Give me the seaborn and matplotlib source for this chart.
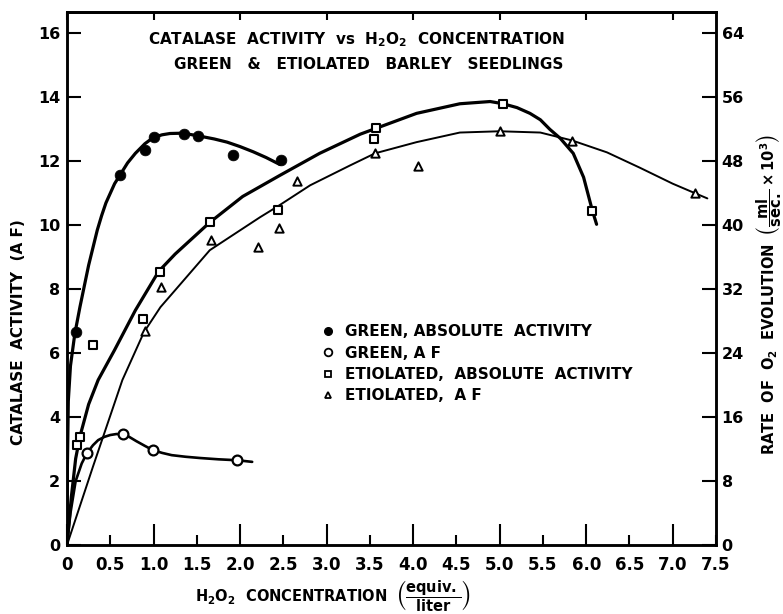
import matplotlib
matplotlib.use("Agg")
import matplotlib.pyplot as plt
from matplotlib.lines import Line2D
import seaborn as sns

# ---------------- data ----------------
green_abs_x = [0.10, 0.61, 0.90, 1.00, 1.35, 1.51, 1.92, 2.47]
green_abs_y = [6.65, 11.56, 12.34, 12.75, 12.84, 12.78, 12.19, 12.03]

green_af_x = [0.23, 0.65, 0.99, 1.97]
green_af_y = [2.87, 3.47, 2.97, 2.65]

etio_abs_x = [0.12, 0.15, 0.30, 0.88, 1.07, 1.65, 2.44, 3.55, 3.57, 5.04, 6.07]
etio_abs_y = [3.12, 3.37, 6.25, 7.06, 8.55, 10.10, 10.47, 12.70, 13.03, 13.78, 10.44]

etio_af_x = [0.90, 1.09, 1.66, 2.21, 2.45, 2.66, 3.56, 4.06, 5.00, 5.84, 7.26]
etio_af_y = [6.69, 8.06, 9.53, 9.32, 9.90, 11.40, 12.25, 11.84, 12.94, 12.65, 11.00]

# hand-drawn fitted curves
green_abs_curve_x = [0.0, 0.005, 0.015, 0.04, 0.09, 0.15, 0.20, 0.25, 0.30, 0.35, 0.40,
                     0.45, 0.50, 0.55, 0.61, 0.70, 0.79, 0.90, 1.00, 1.10, 1.19,
                     1.34, 1.51, 1.70, 1.85, 2.00, 2.15, 2.30, 2.46]
green_abs_curve_y = [0.0, 2.5, 4.5, 5.6, 6.6, 7.45, 8.1, 8.75, 9.3, 9.85, 10.3,
                     10.7, 11.0, 11.3, 11.56, 11.95, 12.25, 12.55, 12.75, 12.83, 12.87,
                     12.88, 12.80, 12.70, 12.60, 12.46, 12.30, 12.12, 11.90]

green_af_curve_x = [0.0, 0.04, 0.10, 0.17, 0.23, 0.30, 0.36, 0.43, 0.50, 0.57, 0.63,
                    0.72, 0.80, 0.90, 0.99, 1.10, 1.21, 1.37, 1.54, 1.75, 1.97, 2.14]
green_af_curve_y = [0.0, 1.0, 2.0, 2.55, 2.87, 3.12, 3.28, 3.38, 3.44, 3.47, 3.47,
                    3.38, 3.25, 3.10, 2.97, 2.88, 2.81, 2.76, 2.72, 2.68, 2.65, 2.60]

etio_abs_curve_x = [0.0, 0.05, 0.10, 0.15, 0.25, 0.36, 0.55, 0.79, 1.06, 1.25,
                    1.65, 2.03, 2.46, 2.92, 3.39, 3.57, 4.04, 4.54, 4.89, 5.04,
                    5.20, 5.35, 5.47, 5.58, 5.70, 5.85, 5.97, 6.07, 6.12]
etio_abs_curve_y = [0.0, 1.5, 2.7, 3.4, 4.4, 5.16, 6.1, 7.34, 8.56, 9.1,
                    10.09, 10.9, 11.56, 12.25, 12.85, 13.03, 13.5, 13.8, 13.87, 13.8,
                    13.68, 13.5, 13.3, 13.0, 12.72, 12.25, 11.5, 10.47, 10.03]

etio_af_curve_x = [0.0, 0.30, 0.64, 0.89, 1.08, 1.25, 1.65, 2.23, 2.44, 2.81,
                   3.27, 3.56, 4.04, 4.54, 5.00, 5.47, 5.84, 6.24, 6.62, 7.00,
                   7.26, 7.40]
etio_af_curve_y = [0.0, 2.45, 5.16, 6.66, 7.44, 7.97, 9.22, 10.25, 10.6, 11.25,
                   11.87, 12.25, 12.6, 12.9, 12.94, 12.9, 12.65, 12.28, 11.8, 11.3,
                   11.0, 10.84]

x_major = [0, 1, 2, 3, 4, 5, 6, 7]
x_major_labels = ["0", "1.0", "2.0", "3.0", "4.0", "5.0", "6.0", "7.0"]
x_minor = [0.5, 1.5, 2.5, 3.5, 4.5, 5.5, 6.5, 7.5]
x_minor_labels = ["0.5", "1.5", "2.5", "3.5", "4.5", "5.5", "6.5", "7.5"]
y_left_ticks = [0, 2, 4, 6, 8, 10, 12, 14, 16]
y_right_ticks = [0, 8, 16, 24, 32, 40, 48, 56, 64]

legend_labels = ["GREEN, ABSOLUTE  ACTIVITY", "GREEN, A F",
                 "ETIOLATED,  ABSOLUTE  ACTIVITY", "ETIOLATED,  A F"]

# ---------------- style ----------------
sns.set_theme(style="ticks")
plt.rcParams["font.family"] = ["DejaVu Sans"]
plt.rcParams["font.weight"] = "bold"
plt.rcParams["mathtext.fontset"] = "dejavusans"
plt.rcParams["mathtext.default"] = "bf"
plt.rcParams["axes.linewidth"] = 1.8
for k in ["text.color", "axes.labelcolor", "xtick.color", "ytick.color", "axes.edgecolor"]:
    plt.rcParams[k] = "black"

fig = plt.figure(figsize=(7.83, 6.14), dpi=100)
ax = fig.add_axes([67 / 783, 1 - 545 / 614, (716 - 67) / 783, (545 - 12) / 614])

YTOP = 16.67
ax.set_xlim(0, 7.5)
ax.set_ylim(0, YTOP)

# curves
sns.lineplot(x=green_abs_curve_x, y=green_abs_curve_y, sort=False, estimator=None,
             color="black", linewidth=2.3, ax=ax)
sns.lineplot(x=green_af_curve_x, y=green_af_curve_y, sort=False, estimator=None,
             color="black", linewidth=1.9, ax=ax)
sns.lineplot(x=etio_abs_curve_x, y=etio_abs_curve_y, sort=False, estimator=None,
             color="black", linewidth=2.3, ax=ax)
sns.lineplot(x=etio_af_curve_x, y=etio_af_curve_y, sort=False, estimator=None,
             color="black", linewidth=1.4, ax=ax)

# points
sns.scatterplot(x=green_abs_x, y=green_abs_y, marker="o", s=60, color="black",
                edgecolor="black", linewidth=0.5, ax=ax, zorder=5)
sns.scatterplot(x=green_af_x, y=green_af_y, marker="o", s=50, facecolor="white",
                edgecolor="black", linewidth=1.6, ax=ax, zorder=5)
sns.scatterplot(x=etio_abs_x, y=etio_abs_y, marker="s", s=30, facecolor="white",
                edgecolor="black", linewidth=1.5, ax=ax, zorder=5)
sns.scatterplot(x=etio_af_x, y=etio_af_y, marker="^", s=36, facecolor="white",
                edgecolor="black", linewidth=1.4, ax=ax, zorder=5)

# ticks
ax.set_xticks(x_major)
ax.set_xticklabels(x_major_labels)
ax.set_xticks(x_minor, minor=True)
ax.set_xticklabels(x_minor_labels, minor=True)
ax.tick_params(axis="x", which="major", direction="in", length=15, width=1.5,
               labelsize=12, pad=8)
ax.tick_params(axis="x", which="minor", direction="in", length=7, width=1.5,
               labelsize=12, pad=8)
ax.set_yticks(y_left_ticks)
ax.tick_params(axis="y", which="major", direction="in", length=10, width=1.5,
               labelsize=11.5, pad=5)
ax.tick_params(axis="y", which="minor", left=False)

top = ax.secondary_xaxis("top")
top.set_xticks(x_major)
top.tick_params(direction="in", length=6, width=1.5, labeltop=False)
top.set_xticklabels([])

ax2 = ax.twinx()
ax2.set_ylim(0, YTOP * 4)
ax2.set_yticks(y_right_ticks)
ax2.tick_params(axis="y", direction="in", length=10, width=1.5, labelsize=11.5, pad=4)
for s in ax2.spines.values():
    s.set_linewidth(1.8)

for lab in ax.get_xticklabels(which="both") + ax.get_yticklabels() + ax2.get_yticklabels():
    lab.set_fontweight("bold")

# axis labels
ax.set_xlabel(r"H$_2$O$_2$  CONCENTRATION  $\left(\dfrac{\mathrm{equiv.}}{\mathrm{liter}}\right)$",
              fontsize=10.5, fontweight="bold")
ax.xaxis.set_label_coords((333 - 67) / 649, -0.063)
ax.set_ylabel("CATALASE  ACTIVITY  (A F)", fontsize=11, fontweight="bold")
ax.yaxis.set_label_coords(-0.063, 0.40)
ax2.set_ylabel(r"RATE  OF  O$_2$  EVOLUTION  $\left(\dfrac{\mathrm{ml}}{\mathrm{sec.}}\times 10^3\right)$",
               fontsize=10.5, fontweight="bold")
ax2.yaxis.set_label_coords(1.059, 0.47)

# title inside the plot
ax.text((357 - 67) / 649, (545 - 40) / 533,
        r"CATALASE  ACTIVITY  vs  H$_2$O$_2$  CONCENTRATION",
        transform=ax.transAxes, ha="center", va="center", fontsize=11, fontweight="bold")
ax.text((369 - 67) / 649, (545 - 65) / 533,
        "GREEN   &   ETIOLATED   BARLEY   SEEDLINGS",
        transform=ax.transAxes, ha="center", va="center", fontsize=11, fontweight="bold")

# legend
handles = [
    Line2D([], [], linestyle="none", marker="o", markersize=5.5, color="black"),
    Line2D([], [], linestyle="none", marker="o", markersize=5.5, markerfacecolor="white",
           markeredgecolor="black", markeredgewidth=1.3),
    Line2D([], [], linestyle="none", marker="s", markersize=4.5, markerfacecolor="white",
           markeredgecolor="black", markeredgewidth=1.3),
    Line2D([], [], linestyle="none", marker="^", markersize=5, markerfacecolor="white",
           markeredgecolor="black", markeredgewidth=1.3),
]
leg = ax.legend(handles, legend_labels, loc="upper left",
                bbox_to_anchor=((316 - 67) / 649, (545 - 318) / 533),
                frameon=False, fontsize=11, handlelength=0.8, handletextpad=0.7,
                labelspacing=0.42, borderaxespad=0)
for t in leg.get_texts():
    t.set_fontweight("bold")
    t.set_color("black")

fig.savefig("out.png", dpi=100)
